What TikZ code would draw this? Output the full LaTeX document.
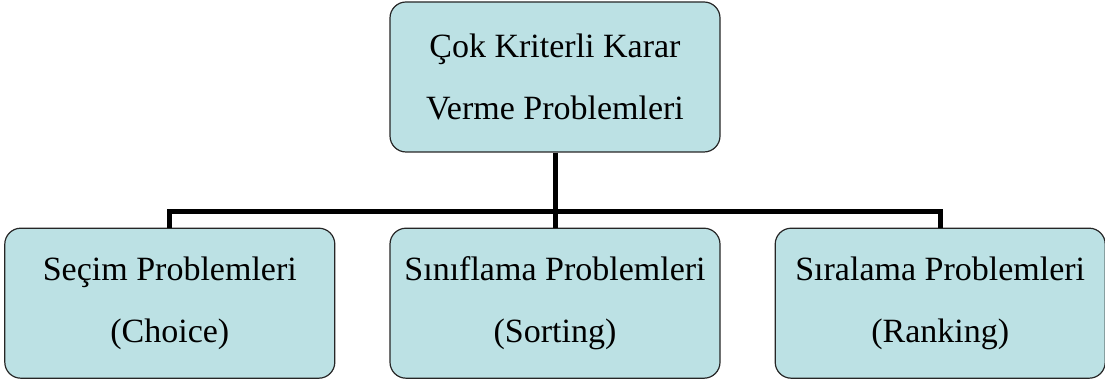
\documentclass[tikz,border=0pt]{standalone}
\usepackage{fontspec}
\setmainfont{Liberation Serif}
\usepackage{xcolor}
\usepackage{tikz}
\usetikzlibrary{positioning}

\definecolor{boxfill}{RGB}{188,225,228}

\begin{document}
\begin{tikzpicture}[
    x=1pt, y=1pt,
    node distance=75pt and 54pt,
    probbox/.style={rectangle, draw=black!85, line width=1.2pt, rounded corners=16pt, fill=boxfill,
        minimum width=330pt, minimum height=150pt, align=center, text centered,
        font=\fontsize{34}{62}\selectfont},
    link/.style={line width=5pt, draw=black}
]
\useasboundingbox (0,0) rectangle (1105,382);

\node[probbox] (ckkv) at (555,305) {Çok Kriterli Karar\\Verme Problemleri};
\node[probbox, below=of ckkv] (sinif) {Sınıflama Problemleri\\(Sorting)};
\node[probbox, left=of sinif] (secim) {Seçim Problemleri\\(Choice)};
\node[probbox, right=of sinif] (sira) {Sıralama Problemleri\\(Ranking)};

\coordinate[above=16pt of sinif.north] (bus);

\draw[link] (ckkv.south) -- (sinif.north);
\draw[link] (secim.north) -- (secim.north |- bus) -- (sira.north |- bus) -- (sira.north);
\end{tikzpicture}
\end{document}
